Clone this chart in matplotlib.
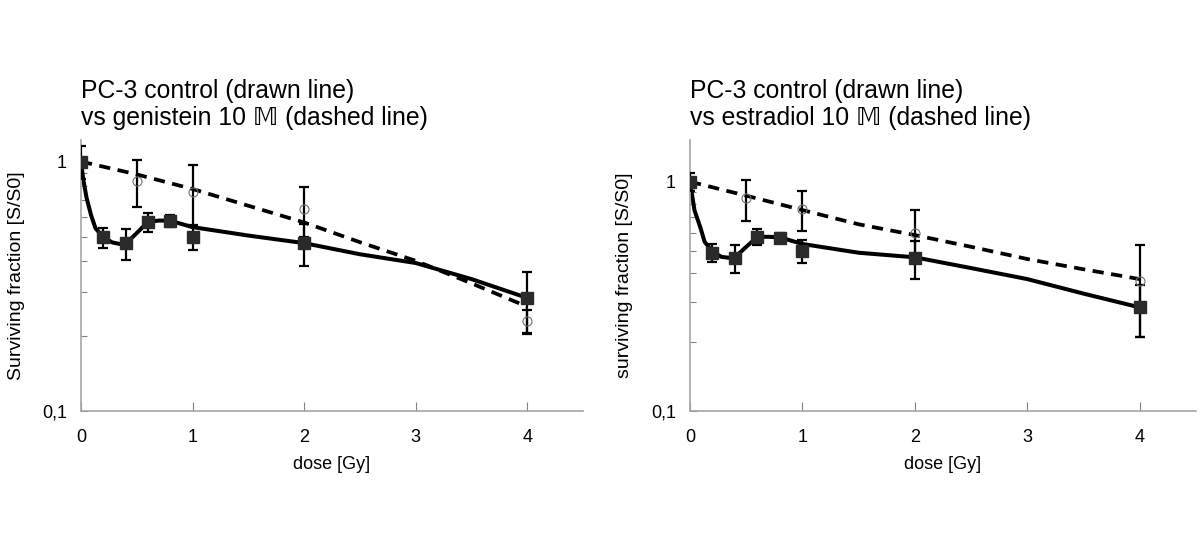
import numpy as np
import matplotlib
matplotlib.use("Agg")
import matplotlib.pyplot as plt
from matplotlib.ticker import LogLocator, FixedLocator, NullFormatter, FuncFormatter

plt.rcParams['font.family'] = ['Liberation Sans', 'DejaVu Sans']

# measured points (dose in Gy, surviving fraction)
dose_ctrl = [0, 0.2, 0.4, 0.6, 0.8, 1, 2, 4]
dose_trt = [0, 0.5, 1, 2, 4]

# left panel: control vs genistein
sf_ctrl_l = [1.0, 0.497, 0.470, 0.574, 0.578, 0.50, 0.47, 0.283]
err_ctrl_l = [0.15, 0.046, 0.066, 0.05, 0.03, 0.058, 0.09, 0.077]
sf_gen = [1.0, 0.839, 0.758, 0.645, 0.229]
err_gen = [0, 0.18, 0.21, 0.145, 0.025]

# drawn curves
curve_ctrl_l_x = [0, 0.02, 0.05, 0.09, 0.13, 0.2, 0.28, 0.35, 0.4, 0.5, 0.6, 0.7, 0.8,
                  1.0, 1.5, 2.0, 2.5, 3.0, 3.5, 4.0]
curve_ctrl_l_y = [1.0, 0.85, 0.715, 0.61, 0.54, 0.497, 0.474, 0.467, 0.468, 0.517, 0.573,
                  0.58, 0.579, 0.546, 0.505, 0.471, 0.425, 0.392, 0.338, 0.284]
curve_gen_x = [0, 0.5, 1, 1.5, 2, 2.5, 3, 3.5, 4]
curve_gen_y = [1.0, 0.888, 0.776, 0.665, 0.57, 0.475, 0.40, 0.325, 0.262]

# right panel: control vs estradiol
sf_ctrl_r = [1.0, 0.491, 0.466, 0.575, 0.57, 0.498, 0.463, 0.283]
err_ctrl_r = [0.09, 0.043, 0.066, 0.045, 0.03, 0.058, 0.087, 0.072]
sf_est = [1.0, 0.846, 0.76, 0.599, 0.37]
err_est = [0, 0.17, 0.15, 0.15, 0.16]

curve_ctrl_r_x = [0, 0.04, 0.09, 0.13, 0.2, 0.28, 0.39, 0.5, 0.6, 0.7, 0.8,
                  1.0, 1.5, 2.0, 2.5, 3.0, 3.5, 4.0]
curve_ctrl_r_y = [1.0, 0.75, 0.636, 0.547, 0.495, 0.47, 0.463, 0.52, 0.575, 0.575, 0.572,
                  0.535, 0.49, 0.468, 0.42, 0.376, 0.325, 0.283]
curve_est_x = [0, 0.5, 1, 1.5, 2, 2.5, 3, 3.5, 4]
curve_est_y = [1.0, 0.869, 0.752, 0.652, 0.585, 0.52, 0.46, 0.415, 0.376]

titles = ["PC-3 control (drawn line)\nvs genistein 10 \U0001D544 (dashed line)",
          "PC-3 control (drawn line)\nvs estradiol 10 \U0001D544 (dashed line)"]
ylabels = ["Surviving fraction [S/S0]", "surviving fraction [S/S0]"]
ytops = [1.22, 1.52]

fig = plt.figure(figsize=(12, 5.45), dpi=100)
axes = [fig.add_axes([81/1200, 134/545, 502/1200, 271/545]),
        fig.add_axes([690/1200, 134/545, 506/1200, 271/545])]

panels = [
    (sf_ctrl_l, err_ctrl_l, sf_gen, err_gen, curve_ctrl_l_x, curve_ctrl_l_y, curve_gen_x, curve_gen_y),
    (sf_ctrl_r, err_ctrl_r, sf_est, err_est, curve_ctrl_r_x, curve_ctrl_r_y, curve_est_x, curve_est_y),
]

gray = '#a6a6a6'
for i, ax in enumerate(axes):
    sc, ec, st, et, cx, cy, tx, ty = panels[i]
    ax.set_yscale('log')
    ax.plot(cx, cy, color='black', lw=2.9, zorder=2)
    ax.plot(tx, ty, color='black', lw=2.7, dashes=(3, 2), zorder=2)
    ax.errorbar(dose_trt, st, yerr=et, fmt='none', ecolor='black', elinewidth=1.6,
                capsize=3.5, capthick=1.6, zorder=3)
    ax.errorbar(dose_ctrl, sc, yerr=ec, fmt='none', ecolor='black', elinewidth=1.6,
                capsize=3.5, capthick=1.6, zorder=3)
    ax.plot(dose_trt, st, 'o', mfc='none', mec='#707070', ms=6.5, mew=0.8, zorder=4)
    ax.plot(dose_ctrl, sc, 's', color='#2a2a2a', ms=8, zorder=5)

    ax.set_xlim(0, 4.5)
    ax.set_ylim(0.1, ytops[i])
    for s in ['top', 'right']:
        ax.spines[s].set_visible(False)
    for s in ['left', 'bottom']:
        ax.spines[s].set_color(gray)
        ax.spines[s].set_linewidth(1.2)
    ax.xaxis.set_major_locator(FixedLocator([0, 1, 2, 3, 4]))
    ax.yaxis.set_major_locator(FixedLocator([0.1, 1]))
    ax.yaxis.set_major_formatter(FuncFormatter(lambda v, p: '0,1' if v < 0.5 else '1'))
    ax.yaxis.set_minor_locator(LogLocator(base=10, subs=np.arange(2, 10)))
    ax.yaxis.set_minor_formatter(NullFormatter())
    ax.tick_params(axis='x', direction='in', length=6.5, width=0.8, color='#808080',
                   labelsize=13, pad=13)
    ax.tick_params(axis='y', which='major', direction='in', length=5, width=0.8,
                   color='#808080', labelsize=13, pad=10)
    ax.tick_params(axis='y', which='minor', direction='in', length=4, width=0.8,
                   color='#808080')
    ax.set_xlabel('dose [Gy]', fontsize=13, labelpad=7)
    ax.set_ylabel(ylabels[i], fontsize=14)
    ax.yaxis.set_label_coords(-0.112, 0.5)
    ax.text(0, 1.13, titles[i], transform=ax.transAxes, fontsize=17.8,
            ha='left', va='center', linespacing=1.15)

fig.savefig('out.png', dpi=100)
